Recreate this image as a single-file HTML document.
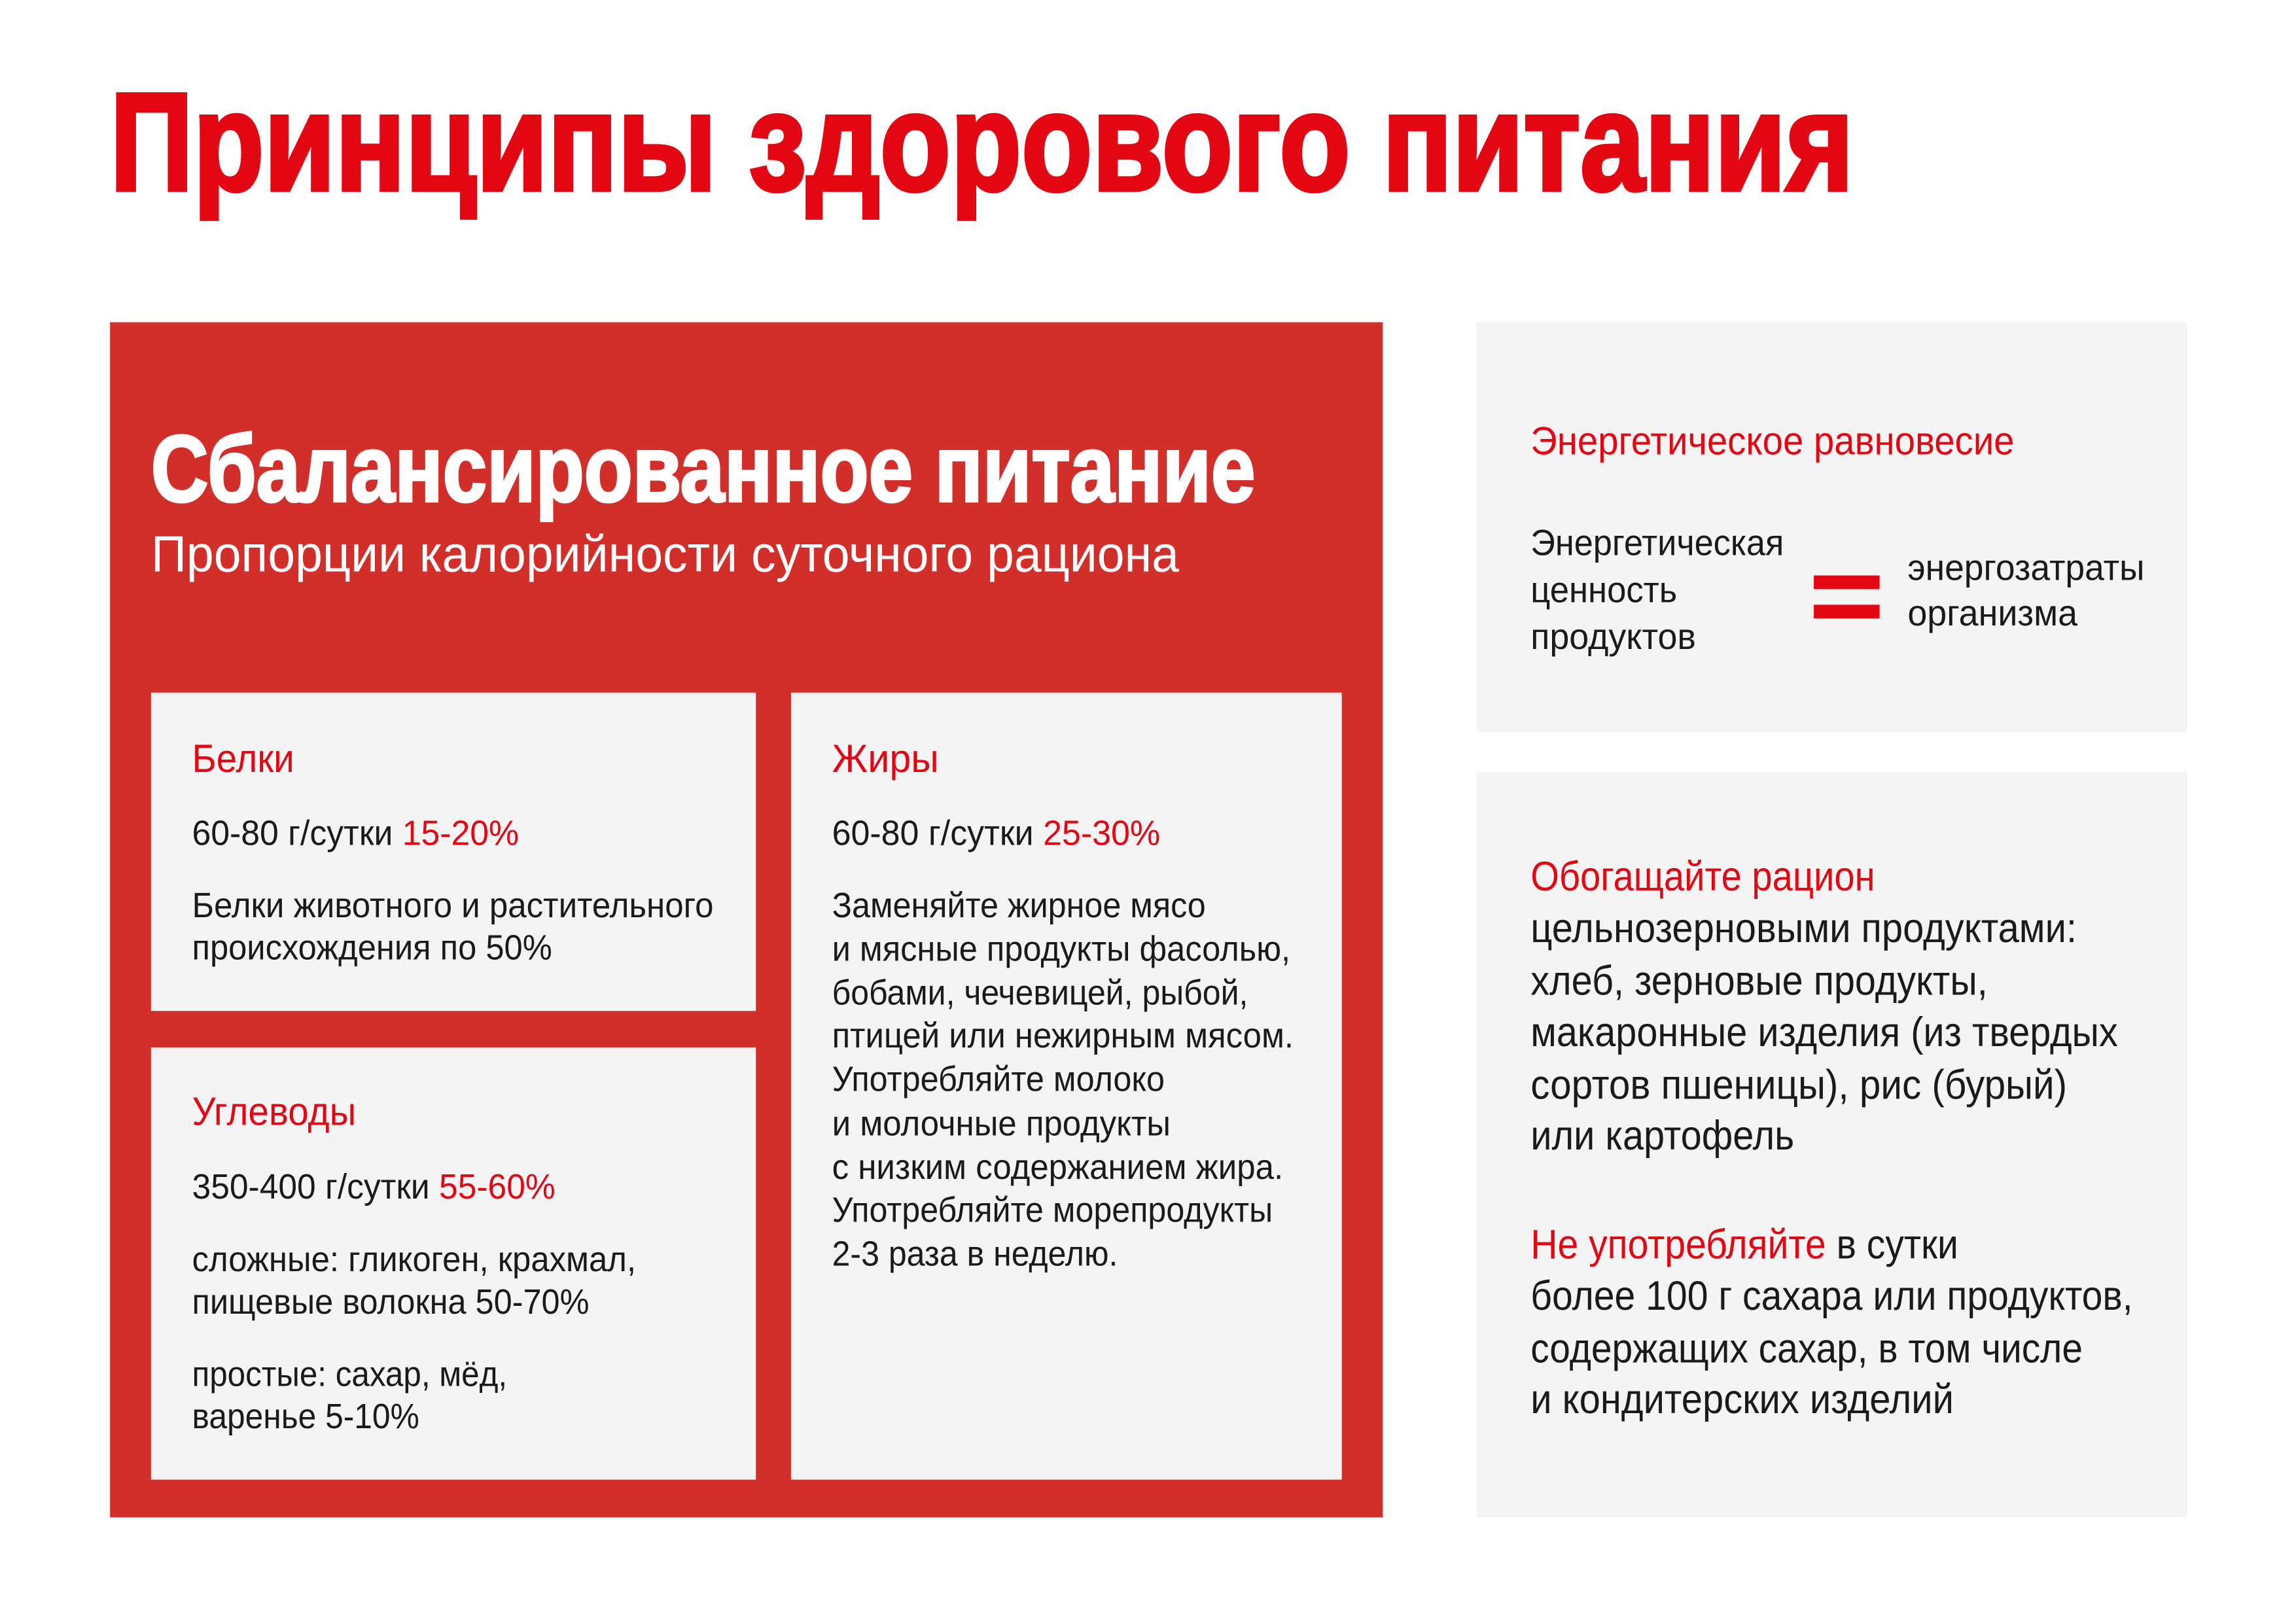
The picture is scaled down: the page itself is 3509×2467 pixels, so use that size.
<!DOCTYPE html>
<html><head><meta charset="utf-8"><style>
html,body{margin:0;padding:0;background:#fff;width:3509px;height:2467px;overflow:hidden}
svg{display:block}
text{font-family:"Liberation Sans","Noto Sans CJK SC",sans-serif}
</style></head><body>
<svg width="3509" height="2467" viewBox="0 0 3509 2467" xmlns="http://www.w3.org/2000/svg">
<rect width="3509" height="2467" fill="#fff"/>
<g transform="scale(0.995)">
<text x="169" y="292" font-size="214" font-weight="bold" fill="#e30613" textLength="2678" lengthAdjust="spacingAndGlyphs" stroke="#e30613" stroke-width="6">Принципы здорового питания</text>

<rect x="169" y="495" width="1955" height="1836" fill="#d32f2a"/>
<text x="232" y="770" font-size="145" font-weight="bold" fill="#fff" stroke="#fff" stroke-width="4" textLength="1696" lengthAdjust="spacingAndGlyphs">Сбалансированное питание</text>
<text x="232" y="878" font-size="78" fill="#fff" textLength="1579" lengthAdjust="spacingAndGlyphs">Пропорции калорийности суточного рациона</text>

<rect x="232" y="1064" width="929" height="489" fill="#f4f4f4"/>
<rect x="232" y="1609" width="929" height="664" fill="#f4f4f4"/>
<rect x="1215" y="1064" width="846" height="1209" fill="#f4f4f4"/>

<g font-size="61" fill="#e30613">
<text x="295" y="1186" textLength="157" lengthAdjust="spacingAndGlyphs">Белки</text>
<text x="295" y="1728" textLength="252" lengthAdjust="spacingAndGlyphs">Углеводы</text>
<text x="1278" y="1186" textLength="164" lengthAdjust="spacingAndGlyphs">Жиры</text>
</g>
<g font-size="54" fill="#1a1a1a">
<text x="295" y="1298" textLength="502" lengthAdjust="spacingAndGlyphs">60-80 г/сутки <tspan fill="#e30613">15-20%</tspan></text>
<text x="295" y="1409" textLength="801" lengthAdjust="spacingAndGlyphs">Белки животного и растительного</text>
<text x="295" y="1474" textLength="553" lengthAdjust="spacingAndGlyphs">происхождения по 50%</text>
<text x="295" y="1841" textLength="558" lengthAdjust="spacingAndGlyphs">350-400 г/сутки <tspan fill="#e30613">55-60%</tspan></text>
<text x="295" y="1953" textLength="682" lengthAdjust="spacingAndGlyphs">сложные: гликоген, крахмал,</text>
<text x="295" y="2018" textLength="610" lengthAdjust="spacingAndGlyphs">пищевые волокна 50-70%</text>
<text x="295" y="2129" textLength="484" lengthAdjust="spacingAndGlyphs">простые: сахар, мёд,</text>
<text x="295" y="2194" textLength="349" lengthAdjust="spacingAndGlyphs">варенье 5-10%</text>
<text x="1278" y="1298" textLength="504" lengthAdjust="spacingAndGlyphs">60-80 г/сутки <tspan fill="#e30613">25-30%</tspan></text>
<text x="1278" y="1409" textLength="574" lengthAdjust="spacingAndGlyphs">Заменяйте жирное мясо</text>
<text x="1278" y="1476" textLength="704" lengthAdjust="spacingAndGlyphs">и мясные продукты фасолью,</text>
<text x="1278" y="1543" textLength="639" lengthAdjust="spacingAndGlyphs">бобами, чечевицей, рыбой,</text>
<text x="1278" y="1609" textLength="709" lengthAdjust="spacingAndGlyphs">птицей или нежирным мясом.</text>
<text x="1278" y="1676" textLength="511" lengthAdjust="spacingAndGlyphs">Употребляйте молоко</text>
<text x="1278" y="1744" textLength="520" lengthAdjust="spacingAndGlyphs">и молочные продукты</text>
<text x="1278" y="1811" textLength="693" lengthAdjust="spacingAndGlyphs">с низким содержанием жира.</text>
<text x="1278" y="1877" textLength="677" lengthAdjust="spacingAndGlyphs">Употребляйте морепродукты</text>
<text x="1278" y="1944" textLength="439" lengthAdjust="spacingAndGlyphs">2-3 раза в неделю.</text>
</g>

<rect x="2268" y="495" width="1091" height="630" fill="#f4f4f4"/>
<rect x="2268" y="1186" width="1091" height="1145" fill="#f4f4f4"/>
<text x="2351" y="698" font-size="61" fill="#e30613" textLength="743" lengthAdjust="spacingAndGlyphs">Энергетическое равновесие</text>
<g font-size="56" fill="#1a1a1a">
<text x="2351" y="853" textLength="389" lengthAdjust="spacingAndGlyphs">Энергетическая</text>
<text x="2351" y="925" textLength="225" lengthAdjust="spacingAndGlyphs">ценность</text>
<text x="2351" y="997" textLength="254" lengthAdjust="spacingAndGlyphs">продуктов</text>
<text x="2930" y="891" textLength="364" lengthAdjust="spacingAndGlyphs">энергозатраты</text>
<text x="2930" y="961" textLength="261" lengthAdjust="spacingAndGlyphs">организма</text>
</g>
<rect x="2786" y="884" width="101" height="21" fill="#e30613"/>
<rect x="2786" y="929" width="101" height="21" fill="#e30613"/>

<g font-size="63" fill="#1a1a1a">
<text x="2351" y="1368" fill="#e30613" textLength="529" lengthAdjust="spacingAndGlyphs">Обогащайте рацион</text>
<text x="2351" y="1447" textLength="839" lengthAdjust="spacingAndGlyphs">цельнозерновыми продуктами:</text>
<text x="2351" y="1528" textLength="702" lengthAdjust="spacingAndGlyphs">хлеб, зерновые продукты,</text>
<text x="2351" y="1607" textLength="902" lengthAdjust="spacingAndGlyphs">макаронные изделия (из твердых</text>
<text x="2351" y="1688" textLength="824" lengthAdjust="spacingAndGlyphs">сортов пшеницы), рис (бурый)</text>
<text x="2351" y="1766" textLength="405" lengthAdjust="spacingAndGlyphs">или картофель</text>
<text x="2351" y="1933" textLength="657" lengthAdjust="spacingAndGlyphs"><tspan fill="#e30613">Не употребляйте</tspan> в сутки</text>
<text x="2351" y="2012" textLength="925" lengthAdjust="spacingAndGlyphs">более 100 г сахара или продуктов,</text>
<text x="2351" y="2093" textLength="848" lengthAdjust="spacingAndGlyphs">содержащих сахар, в том числе</text>
<text x="2351" y="2171" textLength="650" lengthAdjust="spacingAndGlyphs">и кондитерских изделий</text>
</g>
</g>
</svg>
</body></html>
